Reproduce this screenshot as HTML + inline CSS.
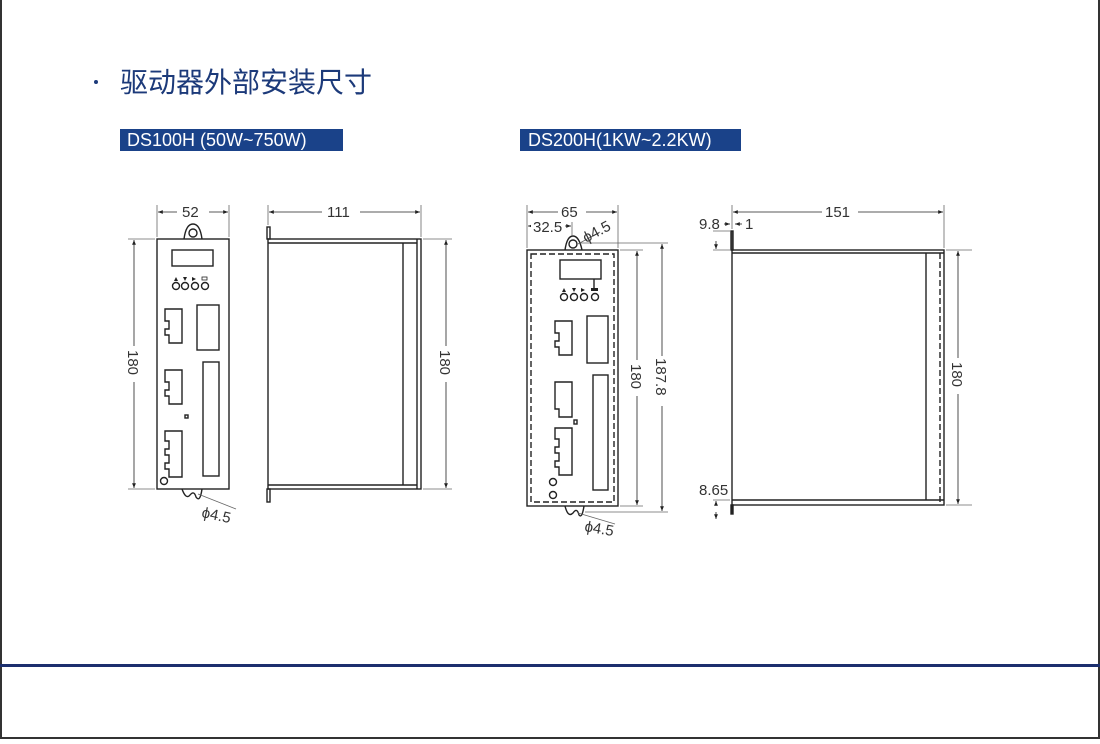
<!DOCTYPE html>
<html><head><meta charset="utf-8"><style>
html,body{margin:0;padding:0;background:#fff}
body{width:1100px;height:739px;position:relative;overflow:hidden;font-family:"Liberation Sans","Noto Sans CJK SC",sans-serif}
</style></head><body>
<svg width="1100" height="739" viewBox="0 0 1100 739" xmlns="http://www.w3.org/2000/svg" font-family="Liberation Sans, Noto Sans CJK SC, sans-serif">
<defs>
<marker id="a" viewBox="0 0 10 10" refX="10" refY="5" markerWidth="6" markerHeight="6" orient="auto-start-reverse"><path d="M0,1 L10,5 L0,9z" fill="#222"/></marker>
</defs>
<rect x="0" y="0" width="2" height="739" fill="#333"/>
<rect x="1098" y="0" width="2" height="739" fill="#333"/>
<rect x="0" y="737" width="1100" height="2" fill="#333"/>
<rect x="0" y="664" width="1100" height="3" fill="#1c2f6e"/>
<circle cx="96" cy="82" r="2" fill="#1c3a7a"/>
<text x="120" y="92" font-size="28" fill="#1c3a7a">驱动器外部安装尺寸</text>
<rect x="120" y="129" width="223" height="22" fill="#1a4289"/>
<text x="127" y="146" font-size="18" fill="#fff">DS100H (50W~750W)</text>
<rect x="520" y="129" width="221" height="22" fill="#1a4289"/>
<text x="528" y="146" font-size="18" fill="#fff">DS200H(1KW~2.2KW)</text>

<g stroke="#222" fill="none" stroke-width="1.4">
<path d="M184,239 Q186,224 193,224 Q200,224 202,239" fill="#fff"/>
<circle cx="193" cy="233" r="4"/>
<rect x="157" y="239" width="72" height="250"/>
<rect x="172" y="250" width="41" height="16"/>
<circle cx="176" cy="286" r="3.5"/><circle cx="185" cy="286" r="3.5"/><circle cx="195" cy="286" r="3.5"/><circle cx="205" cy="286" r="3.5"/>
<path d="M165,309 h17 v34 h-13 v-8 h-4 v-6 h4 v-8 h-4z"/>
<rect x="197" y="305" width="22" height="45"/>
<path d="M165,370 h17 v34 h-13 v-8 h-4 v-6 h4 v-8 h-4z"/>
<rect x="203" y="362" width="16" height="114"/>
<rect x="185" y="415" width="3" height="3"/>
<path d="M165,431 h17 v46 h-13 v-8 h-4 v-6 h4 v-8 h-4 v-6 h4 v-8 h-4z"/>
<circle cx="164" cy="481" r="3.5"/>
<path d="M182,489 Q186,500 190,495 Q194,490 196,497 Q200,503 202,489"/>
<rect x="268" y="239" width="153" height="250"/>
<line x1="268" y1="243" x2="417" y2="243"/><line x1="268" y1="485" x2="417" y2="485"/>
<line x1="403" y1="243" x2="403" y2="485"/><line x1="417" y1="239" x2="417" y2="489"/>
<rect x="267" y="227" width="3" height="12"/><rect x="267" y="489" width="3" height="13"/>
<path d="M565,250 Q567,236 573,236 Q579,236 582,250" fill="#fff"/>
<circle cx="573" cy="244" r="4"/>
<rect x="527" y="250" width="91" height="256"/>
<rect x="531" y="254" width="83" height="248" stroke-dasharray="6,3"/>
<rect x="560" y="260" width="41" height="19"/>
<circle cx="564" cy="297" r="3.5"/><circle cx="574" cy="297" r="3.5"/><circle cx="584" cy="297" r="3.5"/><circle cx="595" cy="297" r="3.5"/>
<line x1="594" y1="279" x2="594" y2="290"/>
<path d="M555,321 h17 v34 h-13 v-8 h-4 v-6 h4 v-8 h-4z"/>
<rect x="587" y="316" width="21" height="47"/>
<path d="M555,382 h17 v35 h-13 v-8 h-4v-19z"/>
<rect x="593" y="375" width="15" height="115"/>
<rect x="574" y="420" width="3" height="4"/>
<path d="M555,428 h17 v47 h-13 v-8 h-4 v-6 h4 v-8 h-4 v-6 h4 v-8 h-4z"/>
<circle cx="553" cy="482" r="3.5"/><circle cx="553" cy="495" r="3.5"/>
<path d="M565,506 Q568,518 573,513 Q577,507 579,515 Q582,519 584,506"/>
<rect x="732" y="250" width="212" height="255"/>
<line x1="732" y1="253" x2="944" y2="253"/><line x1="732" y1="500" x2="944" y2="500"/>
<line x1="926" y1="253" x2="926" y2="500"/>
<line x1="940" y1="253" x2="940" y2="505" stroke-dasharray="6,3"/>
<rect x="731" y="231" width="2" height="19" fill="#555"/>
<rect x="731" y="505" width="2" height="9" fill="#222"/>
</g>

<g stroke="#666" stroke-width="0.8" fill="none">
<line x1="157" y1="205" x2="157" y2="237"/><line x1="229" y1="205" x2="229" y2="237"/>
<line x1="128" y1="239" x2="155" y2="239"/><line x1="128" y1="489" x2="155" y2="489"/>
<line x1="268" y1="205" x2="268" y2="225"/><line x1="421" y1="205" x2="421" y2="237"/>
<line x1="423" y1="239" x2="452" y2="239"/><line x1="423" y1="489" x2="452" y2="489"/>
<line x1="527" y1="205" x2="527" y2="248"/><line x1="618" y1="205" x2="618" y2="248"/>
<line x1="572" y1="222" x2="572" y2="236"/>
<line x1="580" y1="243" x2="668" y2="243"/><line x1="620" y1="250" x2="643" y2="250"/>
<line x1="620" y1="506" x2="643" y2="506"/><line x1="585" y1="512" x2="668" y2="512"/>
<line x1="732" y1="205" x2="732" y2="229"/>
<line x1="944" y1="205" x2="944" y2="248"/><line x1="946" y1="250" x2="972" y2="250"/><line x1="946" y1="505" x2="972" y2="505"/>
<line x1="713" y1="231" x2="730" y2="231"/><line x1="713" y1="250" x2="730" y2="250"/>
<line x1="713" y1="500" x2="730" y2="500"/>
<line x1="198" y1="494" x2="236" y2="509"/><line x1="578" y1="513" x2="615" y2="524"/>
<line x1="578" y1="244" x2="600" y2="232"/>
</g>
<g stroke="#222" stroke-width="0.8" fill="none" marker-start="url(#a)" marker-end="url(#a)">
<line x1="158" y1="212" x2="228" y2="212"/>
<line x1="134" y1="240" x2="134" y2="488"/>
<line x1="269" y1="212" x2="420" y2="212"/>
<line x1="446" y1="240" x2="446" y2="488"/>
<line x1="528" y1="212" x2="617" y2="212"/>
<line x1="528" y1="226" x2="571" y2="226"/>
<line x1="637" y1="251" x2="637" y2="505"/>
<line x1="662" y1="244" x2="662" y2="511"/>
<line x1="733" y1="212" x2="943" y2="212"/>
<line x1="958" y1="251" x2="958" y2="504"/>
</g>
<g stroke="#222" stroke-width="0.8" fill="none" marker-end="url(#a)">
<line x1="716" y1="241" x2="716" y2="249"/>
<line x1="716" y1="504" x2="716" y2="501"/>
<line x1="716" y1="512" x2="716" y2="519"/>
<line x1="724" y1="224" x2="730" y2="224"/>
<line x1="742" y1="224" x2="735" y2="224"/>
</g>
<g fill="#fff">
<rect x="177" y="205" width="32" height="14"/><rect x="322" y="205" width="38" height="14"/>
<rect x="558" y="205" width="28" height="14"/><rect x="531" y="219" width="34" height="14"/>
<rect x="822" y="205" width="36" height="14"/>
<rect x="127" y="346" width="14" height="36"/><rect x="439" y="346" width="14" height="36"/>
<rect x="630" y="360" width="14" height="36"/><rect x="655" y="356" width="14" height="50"/>
<rect x="951" y="358" width="14" height="36"/>
</g>
<g font-size="15" fill="#333">
<text x="182" y="217">52</text><text x="327" y="217">111</text>
<text x="561" y="217">65</text><text x="533" y="232">32.5</text>
<text x="825" y="217">151</text>
<text x="699" y="229">9.8</text><text x="745" y="229">1</text>
<text x="699" y="495">8.65</text>
<text transform="translate(128,350) rotate(90)">180</text>
<text transform="translate(440,350) rotate(90)">180</text>
<text transform="translate(631,364) rotate(90)">180</text>
<text transform="translate(656,358) rotate(90)">187.8</text>
<text transform="translate(952,362) rotate(90)">180</text>
<text transform="translate(201,517) rotate(12)">ϕ4.5</text>
<text transform="translate(584,531) rotate(10)">ϕ4.5</text>
<text transform="translate(586,243) rotate(-28)">ϕ4.5</text>
</g>
<g fill="#222">
<path d="M174,281 l2,-4 l2,4z"/><path d="M183,277 l2,4 l2,-4z"/><path d="M196,279 l-4,-2 v4z"/><rect x="202" y="277" width="5" height="3" fill="none" stroke="#222" stroke-width="0.8"/>
<path d="M562,292 l2,-4 l2,4z"/><path d="M572,288 l2,4 l2,-4z"/><path d="M585,290 l-4,-2 v4z"/><rect x="591" y="288" width="7" height="3"/>
</g>
</svg>
</body></html>
